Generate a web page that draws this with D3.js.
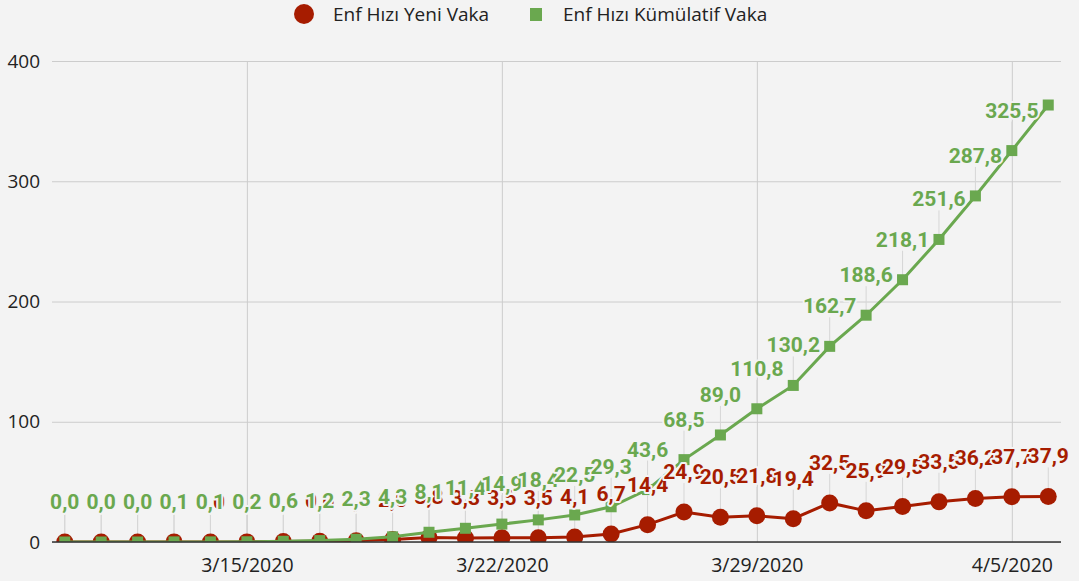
<!DOCTYPE html>
<html><head><meta charset="utf-8">
<script src="https://cdn.jsdelivr.net/npm/d3@7"></script>
<style>html,body{margin:0;padding:0;background:#f3f3f3;} svg{display:block}</style>
</head><body>
<svg id="chart" width="1079" height="581"></svg>
<script>
const dates = ["2020-03-10","2020-03-11","2020-03-12","2020-03-13","2020-03-14","2020-03-15","2020-03-16",
  "2020-03-17","2020-03-18","2020-03-19","2020-03-20","2020-03-21","2020-03-22","2020-03-23","2020-03-24",
  "2020-03-25","2020-03-26","2020-03-27","2020-03-28","2020-03-29","2020-03-30","2020-03-31","2020-04-01",
  "2020-04-02","2020-04-03","2020-04-04","2020-04-05","2020-04-06"];
const newCaseRate = [0.0,0.0,0.0,0.1,0.0,0.1,0.4,0.6,1.1,2.0,3.8,3.3,3.5,3.5,4.1,6.7,14.4,24.9,20.5,21.8,19.4,32.5,25.9,29.5,33.5,36.2,37.7,37.9];
const cumulativeRate = [0.0,0.0,0.0,0.1,0.1,0.2,0.6,1.2,2.3,4.3,8.1,11.4,14.9,18.4,22.5,29.3,43.6,68.5,89.0,110.8,130.2,162.7,188.6,218.1,251.6,287.8,325.5,363.4];
const cumulativeHiddenLabels = ["2020-04-06"];
const yTicks = [0,100,200,300,400];
const xTickDates = ["2020-03-15","2020-03-22","2020-03-29","2020-04-05"];
const seriesNames = ["Enf Hızı Yeni Vaka","Enf Hızı Kümülatif Vaka"];
const RED = "#a61c00", GREEN = "#6aa84f", BG = "#f3f3f3";

(function(){
const parse = d3.timeParse("%Y-%m-%d");
const dts = dates.map(parse);
const pL = 52, pR = 1061, pT = 61, pB = 542;
const pad = 0.35 * 864e5;
const x = d3.scaleTime().domain([+dts[0] - pad, +dts[dts.length-1] + pad]).range([pL, pR]);
const y = d3.scaleLinear().domain([0, 400]).range([pB, pT]);

const svg = d3.select("#chart");
svg.append("rect").attr("width",1079).attr("height",581).attr("fill",BG);

svg.append("defs").append("clipPath").attr("id","plot")
  .append("rect").attr("x",pL).attr("y",pT-10).attr("width",pR-pL).attr("height",pB-pT+10);

const yAxis = d3.axisLeft(y).tickValues(yTicks).tickSize(-(pR-pL)).tickFormat(d3.format("d"));
const gy = svg.append("g").attr("transform",`translate(${pL},0)`).call(yAxis);
gy.select(".domain").remove();
gy.selectAll(".tick line").attr("stroke","#cccccc").attr("stroke-width",1);
gy.selectAll(".tick text").attr("x",-12).attr("fill","#222").attr("font-family","'Open Sans'").attr("font-size",19);

const xAxis = d3.axisBottom(x).tickValues(xTickDates.map(parse)).tickSize(-(pB-pT)).tickFormat(d3.timeFormat("%-m/%-d/%Y"));
const gx = svg.append("g").attr("transform",`translate(0,${pB})`).call(xAxis);
gx.select(".domain").remove();
gx.selectAll(".tick line").attr("stroke","#cccccc").attr("stroke-width",1);
gx.selectAll(".tick text").attr("y",16).attr("fill","#222").attr("font-family","'Open Sans'").attr("font-size",19.5);

const fmt = v => d3.format(".1f")(v).replace(".", ",");
const redData = dts.map((d,i)=>({date:d, v:newCaseRate[i], key:dates[i]}));
const greenData = dts.map((d,i)=>({date:d, v:cumulativeRate[i], key:dates[i]}));

const stemG = svg.append("g");
[redData, greenData].forEach((data, si) => {
  stemG.selectAll(null).data(data.filter(d => si===0 || !cumulativeHiddenLabels.includes(d.key)))
    .enter().append("line")
    .attr("x1", d=>x(d.date)).attr("x2", d=>x(d.date))
    .attr("y1", d=>y(d.v)).attr("y2", d=>y(d.v)-29)
    .attr("stroke","#d6d6d6").attr("stroke-width",1);
});

const plot = svg.append("g").attr("clip-path","url(#plot)");
const line = d3.line().x(d=>x(d.date)).y(d=>y(d.v));
plot.append("path").datum(redData).attr("d",line).attr("fill","none").attr("stroke",RED).attr("stroke-width",3);
plot.selectAll(".rc").data(redData).enter().append("circle")
  .attr("cx",d=>x(d.date)).attr("cy",d=>y(d.v)).attr("r",8.5).attr("fill",RED);
plot.append("path").datum(greenData).attr("d",line).attr("fill","none").attr("stroke",GREEN).attr("stroke-width",3);
plot.selectAll(".gs").data(greenData).enter().append("rect")
  .attr("x",d=>x(d.date)-5.5).attr("y",d=>y(d.v)-5.5).attr("width",11).attr("height",11).attr("fill",GREEN);

svg.append("line").attr("x1",pL).attr("x2",pR).attr("y1",y(0)).attr("y2",y(0)).attr("stroke","#333").attr("stroke-width",1.5);

const labG = svg.append("g").attr("font-family","Roboto").attr("font-weight","bold").attr("font-size",21)
  .attr("text-anchor","middle");
dts.forEach((d,i) => {
  const items = [{v:newCaseRate[i], c:RED, show:true},
                 {v:cumulativeRate[i], c:GREEN, show:!cumulativeHiddenLabels.includes(dates[i])}];
  items.forEach(it => {
    if (!it.show) return;
    labG.append("text").attr("x", x(d)).attr("y", y(it.v) - 33)
      .attr("fill", it.c).attr("stroke", BG).attr("stroke-width", 4).attr("paint-order","stroke")
      .attr("stroke-linejoin","round")
      .text(fmt(it.v));
  });
});

const lg = svg.append("g").attr("font-family","'Open Sans'").attr("font-size",19).attr("fill","#222");
lg.append("circle").attr("cx",304).attr("cy",14).attr("r",10).attr("fill",RED);
lg.append("text").attr("x",333).attr("y",21).text(seriesNames[0]);
lg.append("rect").attr("x",530).attr("y",8).attr("width",12).attr("height",13).attr("fill",GREEN);
lg.append("text").attr("x",563).attr("y",21).text(seriesNames[1]);
})();
</script>
</body></html>
